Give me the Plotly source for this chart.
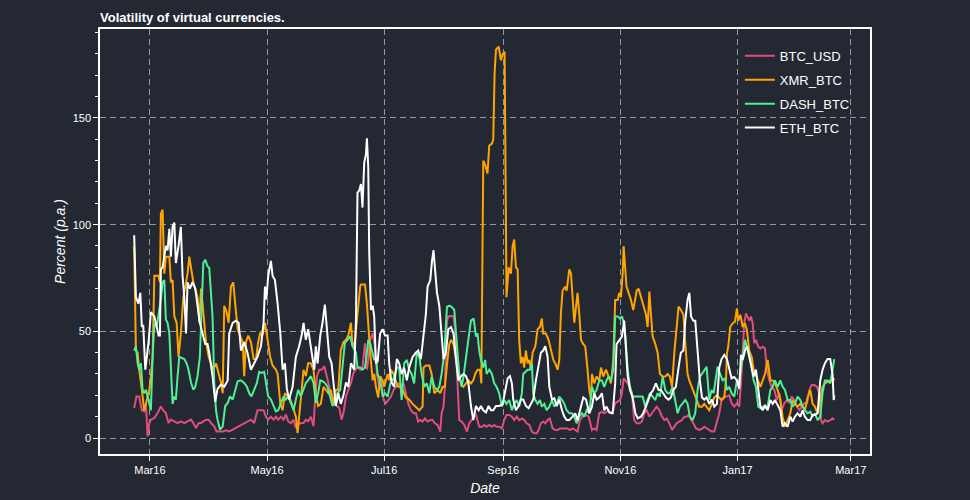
import pandas as pd
import plotly.graph_objects as go

# Day offsets are counted from 2016-03-01; values are volatility in percent p.a.
BASE_DATE = "2016-03-01"
SERIES_NAMES = ["BTC_USD", "XMR_BTC", "DASH_BTC", "ETH_BTC"]

btc_usd = [(-8.2,14),(-7.0,19.5),(-5.6,19.5),(-4.2,13),(-3.0,12.5),(-2.1,16),(-1.2,0.8),(-0.3,7),(0.5,8.6),(2.3,9.4),(4.0,11.7),(5.7,14.8),(6.9,13),(8.3,11.7),(9.7,7),(10.9,8.6),(12.7,7.8),(14.4,7),(16.1,7.8),(17.9,7),(19.6,7.8),(21.4,8.6),(22.6,7),(24.0,4.7),(25.4,7),(26.6,7),(27.8,7.8),(29.2,8.6),(30.6,8.6),(31.8,7),(33.5,5.5),(34.7,3.1),(36.1,3.1),(37.9,3.1),(39.6,3.6),(41.3,3.1),(43.1,3.9),(44.8,4.7),(46.5,5.5),(48.3,6.25),(50.0,7),
 (52.6,8.6),(54.3,7),(56.0,13),(57.8,13),(59.2,13),(60.4,10),(61.6,8.6),(63.0,10),(64.4,8.6),(65.6,10),(66.8,8.6),(68.2,10),(69.6,8.6),(70.8,11),(72.0,7.8),(73.4,7),(74.8,8.6),(76.0,4.7),(77.2,6.25),(78.6,7),(80.0,7),(81.2,8.6),(82.4,7.8),(83.8,10),(85.2,5.5),(85.9,16.4),(87.0,29),(88.2,32),(89.4,32),(90.8,33.6),(92.2,29),(93.4,24),(94.6,19.5),(96.0,16.4),(97.4,15),(98.6,14),(99.8,8.6),(100.8,11.7),(102.1,19.5),(103.3,22.6),(104.7,25.8),(106.0,30.5),(107.3,32),
 (108.1,33.4),(109.5,32),(110.7,33.4),(112.0,44.4),(113.0,32),(113.7,36.6),(114.7,46),(116.0,49),(117.2,42.8),(118.2,30),(119.4,24),(120.6,27),(121.7,17.8),(122.9,16.3),(124.1,17.8),(125.5,19.4),(126.9,22.5),(128.1,24),(129.3,25.6),(130.7,24),(132.1,25.6),(133.3,21),(134.5,16.3),(135.9,13),(137.3,11.6),(138.5,11.6),(139.7,7.7),(140.8,8.4),(142.0,7.7),(143.2,9.2),(144.6,7.7),(146.0,8.4),(147.2,8.4),(148.4,6.9),(149.8,6.1),(151.2,3),(151.9,11.6),(152.9,14.7),(153.6,24),(154.7,55),(155.4,57),(156.8,57.2),(158.1,57),(158.8,52),(159.4,39.7),(160.2,24),(161.1,8.4),(162.3,7.7),(163.7,6.1),(165.1,3),(166.3,6.9),(167.5,8.4),(168.6,10),(169.8,10.8),
 (171.5,5.3),(172.9,5.3),(174.1,6.1),(175.3,5.3),(176.7,6.1),(178.1,5.3),(179.3,6.1),(180.5,5.3),(181.9,5.3),(183.3,4.5),(184.5,8.4),(185.7,10.8),(187.1,10.8),(188.5,10),(189.7,8.4),(191.0,10),(192.3,8.4),(193.7,9.2),(194.9,8.4),(196.2,6.9),(197.6,6.1),(198.9,3),(200.2,2.2),(201.4,2.2),(202.4,3.75),(203.6,6.9),(204.8,7.7),(205.9,6.9),(207.1,8.4),(208.3,9.2),(209.7,4.5),(211.1,3.75),(212.3,3.75),(213.5,4.5),(214.9,4.5),(216.3,4.5),(217.5,4.5),(218.7,3.75),(220.1,4.5),(221.5,3.75),(222.7,3),(223.9,8.4),(225.3,10),(227.1,10.8),(228.5,10),
 (230.2,3.75),(231.4,4.5),(232.6,3.75),(234.0,11.6),(235.4,12.3),(236.6,11.6),(237.8,12.3),(238.9,13),(240.1,11.6),(241.3,13),(242.3,16.3),(243.6,17),(244.8,17.8),(245.8,21),(246.7,28),(247.6,27),(248.8,25.6),(250.0,24),(251.0,21),(252.2,8.4),(253.5,6.9),(254.8,6.9),(256.2,7.7),(257.4,11.6),(258.7,13),(260.1,10),(261.4,11.6),(262.7,13),(263.9,14.7),(265.3,13),(266.7,10),(267.9,8.4),(269.1,9.2),(270.5,6.9),(271.9,3.75),(273.1,5.3),(274.3,6.9),(275.7,7.7),(277.1,8.4),(278.3,10),(279.5,10),(280.5,10.8),(281.8,8.4),(283.0,6.9),(284.4,4.5),(286.1,3.75),(287.8,4.5),
 (288.7,5.3),(290.1,4.5),(291.3,3.75),(292.5,3),(293.9,3),(295.3,8.4),(296.5,11.6),(297.7,17.8),(299.1,19.4),(300.5,19.4),(301.7,20),(302.9,16.3),(304.3,14.7),(305.7,16.3),(306.9,14.7),(307.8,25.6),(308.7,42.8),(309.5,53.8),(310.4,58.4),(311.3,56.9),(312.1,55),(313.0,57),(313.9,53.8),(314.7,44.4),(315.6,46),(316.8,42.8),(317.9,42),(319.1,42.8),(320.3,42),(321.3,32),(322.6,27),(323.8,24),(325.2,22.5),(326.5,17.8),(327.8,21),(329.0,13),(330.4,16.3),(331.8,17.8),(333.0,16.3),(334.2,19.4),(335.6,17.8),(337.0,14.7),(338.2,13),(339.4,14.7),(340.8,16.3),(342.2,16.3),(343.4,22.5),(344.6,24.8),(346.0,24.8),(347.4,24),(348.6,21),(349.5,8.4),(350.3,6.9),(351.5,8.4),(352.9,7.7),(354.3,8.4),(355.5,9.2),(356.4,8.4)]

xmr_btc = [(-8.2,90),(-7.3,41),(-6.4,40),(-5.6,32),(-4.2,22.6),(-3.0,13),(-2.1,16),(-1.2,19.5),(-0.3,22.6),(0.5,29),(1.4,38),(2.3,76),(3.5,76),(4.5,76),(5.2,73),(5.7,105),(6.6,107),(7.5,77),(8.3,85),(9.2,85),(10.1,85),(10.9,73),(11.8,74),(12.7,57),(13.9,54),(14.9,38),(16.1,49),(17.4,66),(18.8,74),(19.6,77),(20.5,85),(21.4,79),(22.6,73),(23.6,70),(24.8,66),(25.7,54),(26.6,70),(27.4,63),(28.3,54),(29.2,45),(30.6,38),(31.8,35),(33.0,32),(34.4,35),(35.8,30),(37.0,26),(37.9,21),(38.7,62),(39.9,59),(41.0,54),(42.2,71),(43.4,73),(44.4,63),(45.7,51),(46.9,48),(48.3,45),
 (49.1,29),(50.0,45),(51.2,48),(52.6,45),(54.0,37),(55.2,37),(56.4,45),(57.4,49),(58.6,48),(59.9,54),(61.3,46),(62.6,38),(63.9,34),(65.6,32),(66.5,30),(67.9,16),(69.1,13),(70.3,21),(71.7,19.5),(73.1,18),(74.3,15),(76.0,10),(76.9,2.3),(77.7,10),(79.0,22.6),(80.0,32),(81.2,29),(82.4,35),(83.8,35),(85.2,32),(86.4,21),(87.6,15),(89.0,16),(90.4,24),(91.6,22.6),(92.9,21),(94.2,22.6),(95.6,16),(96.8,22.6),(98.1,22.6),(99.4,41),(100.8,45),(102.1,46),(103.3,48),(104.7,54),(105.5,43),(106.7,45),(108.1,60),(109.5,71),
 (109.9,72),(112.0,72),(113.0,63),(113.7,52),(114.7,40),(116.0,27),(116.8,30),(117.7,24),(118.9,19),(119.9,29),(121.2,27),(122.0,24),(122.9,27),(123.8,30),(124.6,27),(125.5,32),(126.9,30),(128.1,27),(129.0,24),(130.4,24),(131.6,22.5),(133.3,19),(135.0,18),(136.8,16),(138.5,14.7),(140.3,13),(142.0,14.7),(142.5,33),(143.7,34),(145.5,34),(146.7,30),(148.1,21),(149.8,22.5),(151.2,21),(152.4,24),(153.6,24),(155.0,37),(155.9,44),(156.8,46),(158.1,44),(159.4,37),(160.6,30),(162.0,25.6),(163.3,24),(164.6,25.6),(165.8,27),(167.2,25.6),
 (168.4,27),(169.4,30),(170.6,32),(171.9,32),(172.6,25.6),(173.6,130),(174.6,128),(175.8,124),(176.7,137),(178.1,138),(178.8,140),(179.5,171),(180.2,182),(181.6,183.4),(182.8,177),(183.7,180),(184.7,181),(185.7,66),(186.8,80),(188.0,77),(188.9,90),(189.7,93),(190.6,80),(191.5,79),(192.3,46),(193.2,35),(194.1,38),(194.9,33),(195.8,41),(196.7,35),(197.6,36.6),(198.4,32),(199.3,40),(200.7,43),(201.9,51),(203.1,52),(204.1,56),(204.8,49),(206.2,49),(207.6,46),(208.8,41),(210.1,36.6),(211.1,35),(212.3,32),(213.2,36.6),(214.0,58),(214.9,69),(216.3,71),(217.0,69),(218.4,79),(219.3,77),(220.1,68),(221.0,54),(221.9,61.5),(222.7,68),(223.6,58),(224.5,46),(225.7,44),(226.7,43),(227.9,32),(228.8,22.5),(229.7,18),
 (230.2,30),(231.4,25.6),(232.6,28.8),(234.0,27),(234.9,33),(236.1,28.8),(237.5,32),(238.9,28.8),(240.1,25.6),(241.3,36.6),(242.3,64.7),(243.6,64.7),(244.4,68),(245.3,66),(246.2,77),(246.7,90),(247.6,77),(248.2,71),(249.3,68),(250.5,64.7),(251.7,60),(252.8,66),(253.5,69),(254.5,70),(255.7,66),(256.9,61.6),(258.3,58),(259.2,52),(260.1,68.6),(260.9,58),(261.8,47.5),(263.2,44),(264.4,40),(265.6,30),(267.0,28.8),(268.4,28.8),(269.6,30),(270.8,28.8),(271.9,24),(273.1,40),(274.3,50.6),(275.3,61.6),(276.5,60),(277.8,58),(279.1,41),(280.0,30),(280.9,27),(282.3,24),(283.5,21),(284.7,18),(286.1,14.7),(287.5,14.7),(288.7,16),(289.9,14.7),(291.3,13),
 (292.5,15.5),(293.9,19),(295.3,20),(296.5,19),(297.7,17.8),(299.1,19),(300.0,27),(300.5,39.7),(301.2,43),(302.2,52),(303.5,53.8),(304.7,54.5),(305.7,60.8),(306.4,55),(307.5,57.7),(308.7,52),(309.9,53.8),(310.9,50.6),(312.1,41),(313.4,38),(314.4,32),(315.6,29.5),(316.8,27),(317.9,24),(319.1,27),(320.3,30),(321.7,36.6),(323.1,27),(324.3,27),(325.5,25.6),(326.9,22.5),(328.3,17.8),(329.5,10),(330.7,5.3),(332.1,8.4),(333.5,11.6),(334.7,17.8),(335.9,16),(337.3,14.7),(338.7,16),(339.9,14.7),(341.1,13),(342.5,19),(343.9,22.5),(345.1,16),(346.3,14.7),(347.7,11.6),(349.1,17.8),(350.3,24),(351.5,25.6),(352.9,26.4),(354.3,27),(355.5,26.4),(356.4,28)]

dash_btc = [(-8.2,41),(-7.3,43),(-6.4,35),(-5.6,32),(-4.7,35),(-3.8,22.6),(-3.0,21),(-2.1,22.6),(-1.2,19.5),(-0.3,16),(0.5,13),(1.4,38),(2.3,54),(3.5,52),(4.9,60),(5.7,65),(6.6,73),(7.5,74),(8.3,55.5),(9.2,54),(10.1,49),(10.9,30),(11.8,16),(12.7,19.5),(13.5,18),(14.4,29),(15.3,38),(16.7,37.5),(17.9,37),(19.1,35),(20.1,32),(21.4,26),(22.6,22.6),(23.6,24),(24.8,29),(26.0,38),(27.1,62),(27.8,82),(28.8,83.6),(30.0,80.5),(30.9,79.7),(31.8,69.5),(32.6,57),(33.5,26),(34.4,13),(35.2,8.6),(36.5,3.9),(37.9,5.5),(39.2,15),(40.5,16.4),(41.7,19.5),(43.1,18),(44.4,22.6),(45.7,26.6),(47.4,27),(49.1,25.8),
 (50.5,24),(51.7,21),(52.9,19.5),(54.3,22.6),(55.7,25.8),(56.9,31),(58.1,30.5),(59.5,31),(60.4,26),(61.6,19.5),(63.0,18),(64.4,15),(65.6,12.5),(66.8,13),(68.2,16.4),(69.6,19.5),(70.8,18),(72.0,19.5),(73.4,16.4),(74.8,13),(76.0,18),(77.2,22.6),(78.6,19.5),(80.0,22.6),(81.2,25.8),(82.4,27),(83.8,29),(85.2,25.8),(86.4,16.4),(87.6,21),(88.7,27),(89.9,26.6),(91.1,25.8),(92.5,24),(93.9,19.5),(95.1,15),(96.3,16.4),(97.7,21),(99.1,22.6),(100.3,35),(101.5,44.5),(102.9,46),(104.3,47.7),(105.5,43),(107.3,40),
 (108.1,33),(109.5,33),(110.7,32),(112.0,33),(113.0,40),(113.7,46),(114.7,44.5),(116.0,40),(116.8,36.6),(117.7,38),(118.6,30),(119.9,27),(121.2,19.4),(122.4,21),(123.8,19.4),(125.2,25.6),(126.4,27),(127.6,30),(128.6,33),(129.8,33),(131.1,17.8),(132.4,35),(133.8,36.6),(135.0,32),(136.3,30),(137.6,25.6),(139.0,40),(140.3,38),(141.5,30),(142.9,24),(144.2,25.6),(145.5,21),(146.7,28.7),(148.1,24),(149.5,22.5),(150.7,24),(151.9,30),(153.3,40),(154.7,61.5),(155.9,62),(157.1,61.5),(158.5,60),(159.4,47.5),(160.2,40),(161.1,30),(162.3,24),(163.3,28.7),(164.6,36.6),(165.8,46),(167.2,55),(168.6,56),
 (168.9,53.8),(169.8,47.5),(170.6,49),(171.5,41),(172.4,36.6),(173.6,33),(174.6,36.6),(175.3,30),(176.7,32),(178.1,30),(179.3,25.6),(180.5,24),(181.9,21),(183.3,14.7),(184.5,17.8),(185.7,16),(187.1,17.8),(188.5,13),(189.7,16),(191.0,17.8),(192.3,14.7),(193.7,21),(194.4,30),(195.5,31),(196.7,32),(197.9,32),(198.9,35),(199.6,21),(200.7,17.8),(201.9,16),(203.1,17.8),(204.1,14.7),(205.4,16),(206.6,13),(208.0,14.7),(209.4,17.8),(210.6,14.7),(211.8,16),(213.2,19.4),(214.6,17.8),(215.8,16),(217.0,13),(218.4,11.6),(219.8,11.6),(221.0,10),(222.2,6.9),(223.6,10),(225.0,11.6),(226.2,10),(227.4,13),(228.8,11.6),
 (230.2,24),(231.4,21),(232.6,22.5),(234.0,27),(235.4,27),(236.6,24),(237.8,27),(238.9,28.8),(240.1,27),(241.3,32),(242.3,57),(243.6,57),(244.8,56),(245.8,57),(246.5,55),(247.6,47.5),(248.8,32),(250.0,24),(251.4,19.4),(254.0,19.4),(256.6,19.4),(258.0,14.7),(259.2,17.8),(260.4,21),(261.8,19.4),(263.2,17.8),(264.4,21),(265.6,19.4),(267.0,28.8),(268.4,22.5),(269.6,21),(270.8,21),(272.2,24),(273.6,17.8),(274.8,11.6),(276.0,14.7),(277.4,16),(278.8,17.8),(280.0,16),(281.2,10),(282.6,8.4),(284.0,11.6),(285.2,22.5),(286.4,28.8),(287.5,30),(288.7,32),(289.9,33.4),
 (291.3,17.8),(292.5,22.5),(293.6,21),(294.8,28.8),(295.6,33.4),(297.0,30),(298.2,27),(299.5,28),(300.5,22.5),(301.7,24),(302.9,21),(304.3,19.4),(305.7,27),(306.9,26.4),(307.8,32),(308.7,36.6),(309.9,46),(310.9,43),(312.1,39.7),(313.4,32.6),(314.4,27),(315.6,24),(316.8,14.7),(317.9,14),(319.1,14.7),(320.3,14),(321.7,14.7),(323.1,22.5),(324.3,24),(325.5,27),(326.9,24),(328.3,27),(329.5,24),(330.7,22.5),(332.1,17.8),(333.5,17.8),(334.7,14.7),(335.9,16),(337.3,19.4),(338.7,17.8),(339.9,14.7),(341.1,13),(342.5,11.6),(343.9,12.3),(345.1,10),(346.3,11.6),(347.7,8.4),(349.1,10),(350.3,21),(351.5,27),(352.9,27),(354.3,25.6),(355.5,33.4),(356.4,37)]

eth_btc = [(-8.2,95),(-7.3,66),(-6.0,63),(-5.0,68),(-4.2,52),(-3.5,53),(-2.4,32),(-1.7,37),(-0.7,45),(0.5,59),(2.3,57),(3.1,54),(4.5,48),(5.2,48),(5.7,79),(6.6,80),(7.5,85),(8.3,90),(9.2,88),(10.1,98),(10.9,85),(11.8,99),(12.7,101),(13.5,82),(14.9,90),(16.1,99),(17.0,76),(17.9,66),(18.8,49),(19.6,73),(20.8,70),(22.2,73),(23.6,70),(24.8,63),(26.0,54),(27.4,49),(28.8,44),(30.0,44),(30.9,40),(32.6,29),(34.0,17),(35.2,23),(37.0,25),(38.7,24),(40.5,27),(41.3,49),(43.1,54),(44.8,55),(46.2,54),(47.4,41),(49.1,45),
 (50.8,40),(52.6,32),(54.3,35),(56.0,38),(57.8,43),(59.2,54),(59.9,71),(60.6,65),(61.6,76),(63.0,83),(63.9,76),(65.1,74),(66.5,63),(67.9,49),(69.1,32),(70.3,35),(71.3,23),(72.5,18),(74.3,24),(76.0,38),(77.7,43),(79.0,48),(80.0,54),(81.2,46),(82.4,51),(83.8,43),(85.6,32),(86.4,43),(87.3,35),(88.7,48),(89.9,54),(91.1,62.5),(92.2,49),(93.4,38),(94.6,35),(96.0,23),(96.8,15),(98.1,21),(99.4,16),(100.8,20),(102.1,26),(103.3,24),(104.7,35),(106.4,32),
 (107.3,55),(108.1,115),(109.0,116),(109.9,119),(110.7,108),(111.6,129),(112.5,133),(113.0,140.5),(113.7,127),(114.2,87),(115.1,60),(116.0,62),(116.8,57),(117.7,35),(118.6,36),(119.9,49),(121.2,51),(122.4,48),(123.8,48),(124.6,35),(125.8,26),(127.2,24),(128.6,37),(129.8,35),(131.1,30),(132.4,33),(133.8,27),(135.0,33),(136.8,38),(138.5,40),(139.7,41),(141.1,37),(142.5,49),(143.7,58),(144.6,71),(146.0,74),(146.9,83),(147.7,88),(148.4,80),(149.5,68),(150.7,62),(151.9,49),(152.9,37),(154.1,40),(155.4,51),(156.8,52),(158.1,49),(159.4,37),(160.6,27),(162.0,29),(163.3,30),(164.6,29),(165.8,26),
 (167.2,15),(168.4,8.4),(169.8,15),(171.2,13),(172.4,15),(173.6,13),(175.0,12),(176.4,15),(177.6,13),(178.8,13),(180.2,15),(181.9,15),(183.7,16),(185.1,22.5),(186.3,28),(187.5,29),(188.5,25.6),(189.2,18),(190.6,13),(192.0,15),(193.2,18),(194.4,18),(195.8,15),(197.2,14),(198.4,16),(199.6,18),(201.0,27),(202.4,35),(203.6,40),(204.8,41),(205.9,43),(207.1,38),(208.0,24),(209.4,18),(210.6,18.6),(211.8,15),(213.2,18),(214.6,13),(215.8,10),(217.0,8.4),(218.4,8.4),(220.1,10),(221.5,11.6),(222.7,8.4),(224.5,15),(225.7,19),(227.1,18),
 (228.8,11.6),(230.2,14.7),(231.4,21),(232.6,18),(234.0,19),(235.4,21),(236.6,13),(237.8,14.7),(239.2,12),(241.0,11.6),(242.3,25.6),(243.0,44),(244.4,46),(245.8,47.5),(247.0,55),(247.9,43),(248.8,29),(250.0,22.5),(251.4,19),(252.8,11.6),(254.0,9.2),(255.7,10),(256.9,11.6),(258.3,14.7),(259.7,18),(260.9,21),(262.1,22.5),(263.5,25.6),(264.9,22.5),(266.1,22.5),(267.3,21),(268.7,19),(270.1,18),(271.3,19),(272.6,22.5),(273.9,24),(275.3,33),(276.5,40),(277.8,41),(278.8,55),(280.0,64.7),(280.9,68),(281.8,57),(283.0,55),(284.0,55),(285.2,40),(286.4,27),(287.5,19),(288.7,18),(289.9,19),(291.3,16),(292.7,18),
 (293.9,14.7),(295.3,16),(296.5,33),(297.7,37),(299.1,39),(300.5,37),(301.7,33),(302.9,28),(304.3,28.6),(305.7,27),(306.9,23),(307.8,39),(308.7,36.6),(309.9,41),(310.9,43),(312.1,38),(313.4,32),(314.4,28.8),(315.6,32),(316.8,22.5),(317.9,14.7),(319.1,13),(320.3,15.5),(321.7,13),(323.1,17.8),(324.3,16),(325.5,17.8),(326.9,15.5),(328.3,13),(329.5,5.3),(330.7,6.9),(332.1,5.3),(333.5,10),(334.7,7.7),(335.9,10),(337.3,11.6),(338.7,10),(339.9,13),(341.1,10),(342.5,8.4),(343.9,8.4),(345.1,10.8),(346.3,10.8),(347.7,11.6),(349.1,27),(350.3,32),(351.5,35),(352.9,37),(354.3,37),(355.5,30),(356.1,17.8),(356.4,20)]

COLORS = ["#e04f7b", "#ffa500", "#4ef093", "#ffffff"]
BG = "#232833"
GRID = "rgba(190,190,190,0.75)"
FONT = "Liberation Sans, Arial, Helvetica, sans-serif"

fig = go.Figure()
base = pd.Timestamp(BASE_DATE)
for name, pairs, color in zip(SERIES_NAMES, [btc_usd, xmr_btc, dash_btc, eth_btc], COLORS):
    days = [p[0] for p in pairs]
    vals = [p[1] for p in pairs]
    dates = base + pd.to_timedelta(days, unit="D")
    fig.add_trace(go.Scatter(x=dates, y=vals, mode="lines", name=name,
                             legendgroup=name,
                             line=dict(color=color, width=2)))

fig.update_layout(
    width=970, height=500,
    paper_bgcolor=BG, plot_bgcolor=BG,
    margin=dict(l=100, r=100, t=29, b=46, autoexpand=False),
    font=dict(family=FONT, color="white", size=11),
    title=dict(text="<b>Volatility of virtual currencies.</b>",
               x=100/970, xanchor="left", xref="container",
               y=1-17/500, yanchor="middle", yref="container",
               font=dict(size=13, color="white")),
    showlegend=True,
    legend=dict(x=0.831, y=0.972, xanchor="left", yanchor="top",
                bgcolor="rgba(0,0,0,0)", font=dict(size=13, color="white"),
                tracegroupgap=4, itemwidth=30),
)
fig.update_xaxes(
    type="date", range=["2016-02-04", "2017-03-11"],
    tick0="2016-03-01", dtick="M2", tickformat="%b%y",
    ticks="outside", ticklen=5, tickcolor="white", tickwidth=1,
    showline=True, linecolor="white", linewidth=1.5, mirror=True,
    showgrid=True, gridcolor=GRID, gridwidth=1, griddash="6px,4px",
    zeroline=False, automargin=False,
    tickfont=dict(size=11, color="white"),
    title=dict(text="<i>Date</i>", font=dict(size=14, color="white"), standoff=8),
)
fig.update_yaxes(
    range=[-7.5, 191.7], tick0=0, dtick=50,
    ticks="outside", ticklen=5, tickcolor="white", tickwidth=1,
    minor=dict(dtick=10, tick0=0, ticks="outside", ticklen=3, tickcolor="white", showgrid=False),
    showline=True, linecolor="white", linewidth=1.5, mirror=True,
    showgrid=True, gridcolor=GRID, gridwidth=1, griddash="6px,4px",
    zeroline=False, automargin=False,
    tickfont=dict(size=11, color="white"),
    title=dict(text="<i>Percent (p.a.)</i>", font=dict(size=14, color="white"), standoff=4),
)

fig.write_html("out.html")
